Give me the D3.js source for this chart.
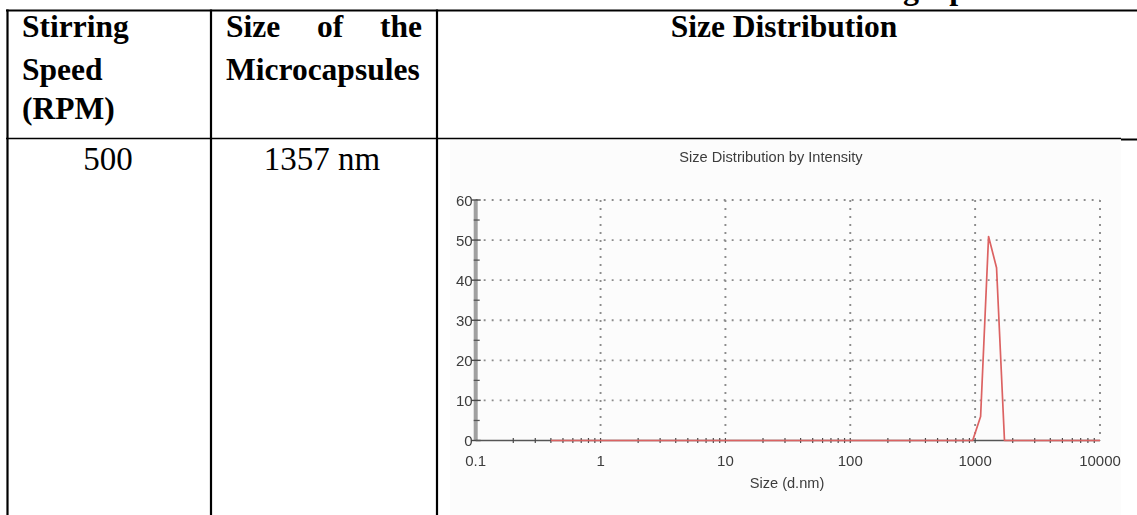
<!DOCTYPE html>
<html>
<head>
<meta charset="utf-8">
<script src="https://cdn.jsdelivr.net/npm/d3@7"></script>
<style>
  html, body { margin: 0; padding: 0; background: #ffffff; }
  svg { display: block; }
</style>
</head>
<body>
<svg id="page" width="1137" height="515"></svg>
<script>
// ---- data ---------------------------------------------------------------
// DLS size classes (d.nm), logarithmically spaced from 0.4 to 10000 nm
const sizeBins = [
  0.4, 0.4632, 0.5365, 0.6213, 0.7195, 0.8332, 0.9649, 1.117, 1.294, 1.499,
  1.736, 2.010, 2.328, 2.696, 3.122, 3.615, 4.187, 4.849, 5.615, 6.503,
  7.531, 8.721, 10.10, 11.70, 13.54, 15.69, 18.17, 21.04, 24.36, 28.21,
  32.67, 37.84, 43.82, 50.75, 58.77, 68.06, 78.82, 91.28, 105.7, 122.4,
  141.8, 164.2, 190.1, 220.2, 255.0, 295.3, 342.0, 396.1, 458.7, 531.2,
  615.1, 712.4, 825.0, 955.4, 1106, 1281, 1484, 1718, 1990, 2305,
  2669, 3091, 3580, 4145, 4801, 5560, 6439, 7456, 8635, 10000
];
// Intensity (%) per size class
const intensity = [
  0, 0, 0, 0, 0, 0, 0, 0, 0, 0,
  0, 0, 0, 0, 0, 0, 0, 0, 0, 0,
  0, 0, 0, 0, 0, 0, 0, 0, 0, 0,
  0, 0, 0, 0, 0, 0, 0, 0, 0, 0,
  0, 0, 0, 0, 0, 0, 0, 0, 0, 0,
  0, 0, 0, 0, 6.0, 50.9, 43.1, 0, 0, 0,
  0, 0, 0, 0, 0, 0, 0, 0, 0, 0
];
const yTickValues = [0, 10, 20, 30, 40, 50, 60];
const xTickValues = [0.1, 1, 10, 100, 1000, 10000];
const xTickLabels = ["0.1", "1", "10", "100", "1000", "10000"];
const chartTitle = "Size Distribution by Intensity";
const xAxisTitle = "Size (d.nm)";

const headerSpeed = ["Stirring", "Speed", "(RPM)"];
const headerSize = ["Size of the", "Microcapsules"];
const headerDistribution = "Size Distribution";
const rowSpeed = "500";
const rowSize = "1357 nm";
const captionLead = "Table 3: Size and Size Distribution ";
const captionTail = "graph of the microcapsules";

// ---- page / table -------------------------------------------------------
const svg = d3.select("#page");
const serif = "'Liberation Serif', 'Times New Roman', Times, serif";
const sans = "'Liberation Sans', Arial, Helvetica, sans-serif";

// caption line above the table (only its lowest strokes fall inside the page)
const cap = svg.append("text")
  .attr("font-family", serif).attr("font-weight", "bold").attr("font-size", 32)
  .attr("y", -1.5);
cap.append("tspan").text(captionLead);
cap.append("tspan").text(captionTail);
const leadW = cap.select("tspan").node().getComputedTextLength();
cap.attr("x", 903 - leadW);

// table grid
const colX = [7.5, 211, 437];
const topY = 10.5, rowY = 138.5, bottomY = 515;
const grid = svg.append("g").attr("stroke", "#000");
grid.append("line").attr("x1", 6).attr("x2", 1137).attr("y1", topY).attr("y2", topY).attr("stroke-width", 2.2);
grid.append("line").attr("x1", 6).attr("x2", 1121).attr("y1", rowY).attr("y2", rowY).attr("stroke-width", 1.4);
grid.append("line").attr("x1", 1121).attr("x2", 1137).attr("y1", rowY + 1).attr("y2", rowY + 1).attr("stroke-width", 2);
colX.forEach(x => {
  grid.append("line").attr("x1", x).attr("x2", x).attr("y1", topY - 1).attr("y2", bottomY).attr("stroke-width", 2.2);
});

const hdr = svg.append("g").attr("font-family", serif).attr("font-weight", "bold")
  .attr("font-size", 31.5).attr("fill", "#000");
const lineY = [37, 80, 119];
headerSpeed.forEach((t, i) => hdr.append("text").attr("x", 22).attr("y", lineY[i]).text(t));

// justified first line of the second header cell
const just = hdr.append("text").attr("x", 226).attr("y", lineY[0]).text(headerSize[0]);
const natural = just.node().getComputedTextLength();
just.attr("word-spacing", ((422 - 226) - natural) / 2);
hdr.append("text").attr("x", 226).attr("y", lineY[1]).text(headerSize[1]);
hdr.append("text").attr("x", 784).attr("y", lineY[0]).attr("text-anchor", "middle").text(headerDistribution);

const body = svg.append("g").attr("font-family", serif).attr("font-size", 33).attr("fill", "#000")
  .attr("text-anchor", "middle");
body.append("text").attr("x", 108).attr("y", 170).text(rowSpeed);
body.append("text").attr("x", 322).attr("y", 170).text(rowSize);

// ---- embedded size distribution chart -----------------------------------
const defs = svg.append("defs");
defs.append("filter").attr("id", "soft").attr("x", "-5%").attr("y", "-5%").attr("width", "110%").attr("height", "110%")
  .append("feGaussianBlur").attr("stdDeviation", 0.5);

svg.append("rect").attr("x", 450).attr("y", 140).attr("width", 671).attr("height", 375).attr("fill", "#fcfcfc");

const chart = svg.append("g").attr("filter", "url(#soft)");

const x = d3.scaleLog().domain([0.1, 10000]).range([475.7, 1100]);
const y = d3.scaleLinear().domain([0, 60]).range([440.5, 200]);

// dotted grid
chart.append("g").selectAll("line").data(yTickValues.filter(v => v > 0)).join("line")
  .attr("x1", x(0.1)).attr("x2", x(10000))
  .attr("y1", d => y(d)).attr("y2", d => y(d))
  .attr("stroke", "#8c8c8c").attr("stroke-width", 1.9).attr("stroke-dasharray", "1.9 6.1");
chart.append("g").selectAll("line").data(xTickValues.filter(v => v > 0.1)).join("line")
  .attr("x1", d => x(d)).attr("x2", d => x(d))
  .attr("y1", y(60)).attr("y2", y(0))
  .attr("stroke", "#8c8c8c").attr("stroke-width", 1.9).attr("stroke-dasharray", "1.9 6.1");

// y axis: broad grey spine with short ticks
chart.append("rect").attr("x", x(0.1) - 2).attr("y", y(60)).attr("width", 4).attr("height", y(0) - y(60))
  .attr("fill", "#a0a0a0");
const yMinor = d3.range(5, 60, 10);
chart.append("g").selectAll("line").data(yTickValues).join("line")
  .attr("x1", x(0.1) - 4).attr("x2", x(0.1) + 5)
  .attr("y1", d => y(d)).attr("y2", d => y(d))
  .attr("stroke", "#4a4a4a").attr("stroke-width", 1.4);
chart.append("g").selectAll("line").data(yMinor).join("line")
  .attr("x1", x(0.1) - 2).attr("x2", x(0.1) + 4)
  .attr("y1", d => y(d)).attr("y2", d => y(d))
  .attr("stroke", "#555").attr("stroke-width", 1.3);

// x axis with logarithmic minor ticks
chart.append("line").attr("x1", x(0.1)).attr("x2", x(10000)).attr("y1", y(0)).attr("y2", y(0))
  .attr("stroke", "#555").attr("stroke-width", 1.4);
const xMinor = x.ticks().filter(v => v > 0.1 && v < 10000);
chart.append("g").selectAll("line").data(xMinor).join("line")
  .attr("x1", d => x(d)).attr("x2", d => x(d))
  .attr("y1", y(0) - 2.5).attr("y2", y(0) + 2.5)
  .attr("stroke", "#4a4a4a").attr("stroke-width", 1.2);

// tick labels
const labels = chart.append("g").attr("font-family", sans).attr("font-size", 15).attr("fill", "#3c3c3c");
labels.selectAll("text.yl").data(yTickValues).join("text").attr("class", "yl")
  .attr("x", x(0.1) - 3).attr("y", d => y(d) + 5.5).attr("text-anchor", "end")
  .text(d => d);
labels.selectAll("text.xl").data(xTickValues).join("text").attr("class", "xl")
  .attr("x", d => x(d)).attr("y", 466).attr("text-anchor", "middle")
  .text((d, i) => xTickLabels[i]);
labels.append("text").attr("x", 787).attr("y", 488).attr("text-anchor", "middle").attr("font-size", 14.6)
  .text(xAxisTitle);
labels.append("text").attr("x", 771).attr("y", 162).attr("text-anchor", "middle").attr("font-size", 14.6)
  .text(chartTitle);

// intensity distribution curve
const line = d3.line().x((d, i) => x(sizeBins[i])).y(d => y(d));
chart.append("path").datum(intensity)
  .attr("d", line)
  .attr("fill", "none").attr("stroke", "#dc6262").attr("stroke-width", 1.7)
  .attr("stroke-linejoin", "round");
</script>
</body>
</html>
